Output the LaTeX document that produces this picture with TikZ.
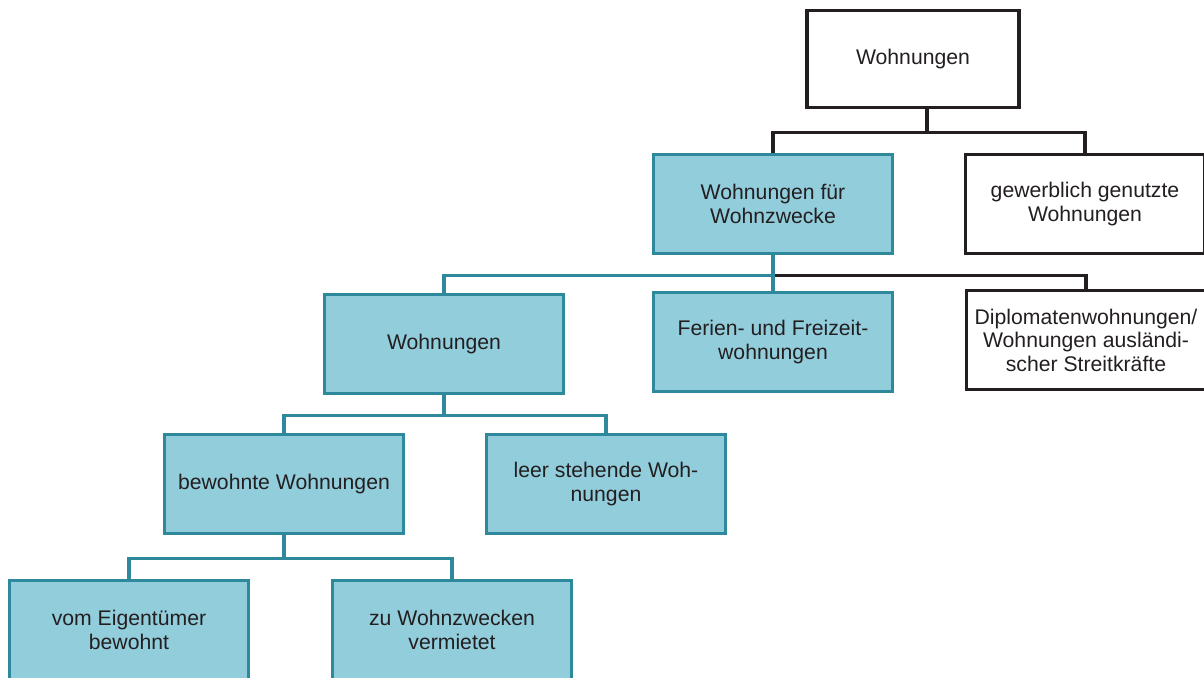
\documentclass[tikz,border=0pt]{standalone}
\usepackage{fontspec}
\setmainfont{Liberation Sans}
\usetikzlibrary{positioning}
\definecolor{tealline}{HTML}{2E899D}
\definecolor{tealfill}{HTML}{92CDDC}
\definecolor{darkline}{HTML}{231F20}
\tikzset{
  box/.style={rectangle,minimum width=239pt,minimum height=99pt,inner sep=2pt,
    align=center,line width=3.6pt,font=\fontsize{21.2}{23.5}\selectfont,text=darkline},
  tealbox/.style={box,draw=tealline,fill=tealfill},
  plainbox/.style={box,draw=darkline,fill=white},
  tealconn/.style={draw=tealline,line width=3.6pt},
  darkconn/.style={draw=darkline,line width=3.6pt}
}
\begin{document}
\begin{tikzpicture}[x=1pt,y=-1pt,node distance=140pt]
	\useasboundingbox (0,0) rectangle (1204,677);
	\fill (913,59) node[plainbox,minimum width=212pt,minimum height=97pt] (top) {Wohnungen};
	\fill (0,0) node[tealbox,below of=top,xshift=-140pt,yshift=-5pt] (wfw) {Wohnungen für\\Wohnzwecke};
	\fill (0,0) node[plainbox,right of=wfw,xshift=172pt] (gew) {gewerblich genutzte\\Wohnungen};
	%
	\fill (0,0) node[tealbox,below of=wfw,xshift=-329pt,yshift=0pt] (wohn) {Wohnungen};
	\fill (0,0) node[tealbox,below of=wfw,yshift=2pt] (fer) {Ferien- und Freizeit-\\wohnungen};
	\fill (0,0) node[plainbox,right of=fer,xshift=173pt,yshift=2pt] (dip) {Diplomatenwohnungen/\\Wohnungen ausländi-\\scher Streitkräfte};
	%
	\fill (0,0) node[tealbox,below of=wohn,xshift=-160pt] (bew) {bewohnte Wohnungen};
	\fill (0,0) node[tealbox,right of=bew,xshift=182pt] (leer) {leer stehende Woh-\\nungen};
	%
	\fill (0,0) node[tealbox,below of=bew,xshift=-155pt,yshift=-6pt] (eig) {vom Eigentümer\\bewohnt};
	\fill (0,0) node[tealbox,right of=eig,xshift=183pt] (verm) {zu Wohnzwecken\\vermietet};
	%
	{
	\path[darkconn] ([xshift=14pt]top.south) -- ++(0,23) -| (wfw.north);
	\path[darkconn] ([xshift=14pt]top.south) -- ++(0,23) -| (gew.north);
	%
	\path[darkconn] ([yshift=-20pt]wfw.south) -| (dip.north);
	\path[tealconn] (wfw.south) -- ++(0,20) -| (wohn.north);
	\path[tealconn] (wfw.south) -- (fer.north);
	%
	\path[tealconn] (wohn.south) -- ++(0,20) -| (bew.north);
	\path[tealconn] (wohn.south) -- ++(0,20) -| (leer.north);
	%
	\path[tealconn] (bew.south) -- ++(0,23) -| (eig.north);
	\path[tealconn] (bew.south) -- ++(0,23) -| (verm.north);
	}
\end{tikzpicture}
\end{document}
